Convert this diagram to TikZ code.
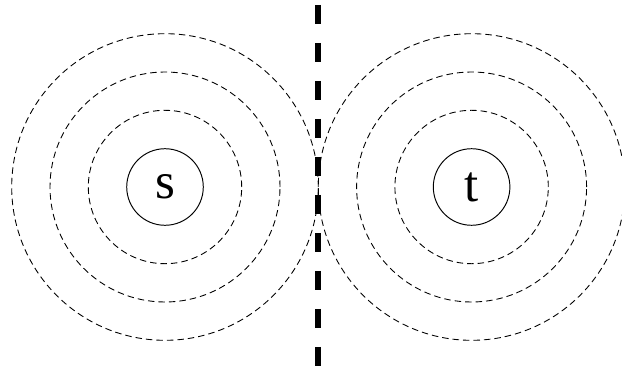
\documentclass[tikz,border=0pt]{standalone}
\usepackage{fontspec}
\setmainfont{Liberation Serif}
\usepackage{tikz}
\usetikzlibrary{positioning,calc}
\tikzset{
  vertex/.style={draw, circle, minimum size=1.532cm, inner sep=0pt,
                 line width=0.55pt, font=\fontsize{29}{30}\selectfont},
  ring/.style={draw, dashed, dash pattern=on 0.13cm off 0.08cm, line width=0.5pt},
  cut/.style={draw, line width=0.12cm, dash pattern=on 0.38cm off 0.38cm},
}

\begin{document}
\begin{tikzpicture}[x=0.02cm, y=-0.02cm]
  \useasboundingbox (0,0) rectangle (622,375);

  \node[vertex] (s) at (165,187) {s};
  \node[vertex] (t) at (471.6,187) {t};

  % level sets round each terminal
  \foreach \r in {76.7,115,153.3} {
    \draw[ring] (s) circle (\r*0.02cm);
    \draw[ring] (t) circle (\r*0.02cm);
  }

  \coordinate (ctop) at (318.3,5);
  \coordinate (cbot) at (318.3,375);
  \draw[cut] (ctop) -- (cbot);
\end{tikzpicture}
\end{document}
